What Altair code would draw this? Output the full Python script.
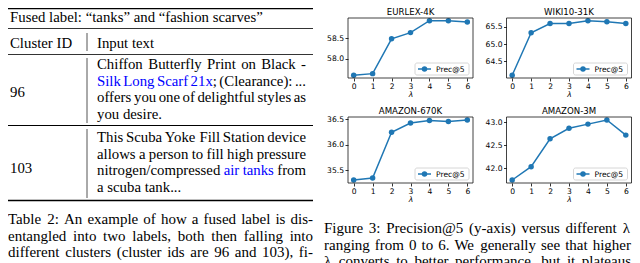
import altair as alt
import pandas as pd

# ---------------- data ----------------
LAMBDA = [0, 1, 2, 3, 4, 5, 6]
X_TICKS = [0, 1, 2, 3, 4, 5, 6]
PANEL_TITLES = ["EURLEX-4K", "WIKI10-31K", "AMAZON-670K", "AMAZON-3M"]
EURLEX_4K = [57.60, 57.64, 58.49, 58.64, 58.93, 58.93, 58.90]
WIKI10_31K = [64.09, 65.33, 65.60, 65.60, 65.68, 65.65, 65.60]
AMAZON_670K = [35.31, 35.35, 36.25, 36.43, 36.48, 36.46, 36.49]
AMAZON_3M = [41.74, 42.03, 42.64, 42.87, 42.96, 43.05, 42.72]
Y_TICKS_EURLEX = [58.0, 58.5]
Y_TICKS_WIKI = [64.5, 65.0, 65.5]
Y_TICKS_670K = [35.5, 36.0, 36.5]
Y_TICKS_3M = [42.0, 42.5, 43.0]
SERIES_NAME = "Prec@5"
X_TITLE = "λ"

TABLE_HEADER = "Fused label: “tanks” and “fashion scarves”"
COL_HEADERS = ["Cluster ID", "Input text"]
CLUSTER_IDS = ["96", "103"]
ROW_96 = [
    [("Chiffon Butterfly Print on Black -", "k")],
    [("Silk Long Scarf 21x", "b"), ("; (Clearance): ...", "k")],
    [("offers you one of delightful styles as", "k")],
    [("you desire.", "k")],
]
ROW_103 = [
    [("This Scuba Yoke Fill Station device", "k")],
    [("allows a person to fill high pressure", "k")],
    [("nitrogen/compressed ", "k"), ("air tanks", "b"), (" from", "k")],
    [("a scuba tank...", "k")],
]
TABLE_CAPTION = [
    "Table 2: An example of how a fused label is dis-",
    "entangled into two labels, both then falling into",
    "different clusters (cluster ids are 96 and 103), fi-",
]
FIGURE_CAPTION = [
    "Figure 3: Precision@5 (y-axis) versus different λ",
    "ranging from 0 to 6. We generally see that higher",
    "λ converts to better performance, but it plateaus",
]

# ---------------- style / layout (page pixels) ----------------
BLUE = "#1f77b4"
SERIF = "Liberation Serif"
SANS = "DejaVu Sans"
COLORS = {"k": "#000000", "b": "#0000ff"}
M = 8                      # page margin -> view origin
VIEW_W, VIEW_H = 624, 255

# frames of the four panels: (x0, x1, y0 top, y1 bottom)
FRAMES = [(348, 473, 18, 78), (506.5, 631.5, 18, 78),
          (348, 473, 117, 183), (506.5, 631.5, 117, 183)]

TABLE_FS = 14.8
CAP_FS = 15.0
TICK_FS = 7.6
TITLE_FS = 8.6

TIMES = {" ": 250, "!": 333, "(": 333, ")": 333, ",": 250, "-": 333, ".": 250,
         "/": 278, ":": 278, ";": 278, "@": 921, "“": 444, "”": 444, "λ": 549}
for d in "0123456789":
    TIMES[d] = 500
for c, w in zip("ABCDEFGHIJKLMNOPQRSTUVWXYZ",
                [722, 667, 667, 722, 611, 556, 722, 722, 333, 389, 722, 611, 889,
                 722, 722, 556, 722, 667, 556, 611, 722, 722, 944, 722, 722, 611]):
    TIMES[c] = w
for c, w in zip("abcdefghijklmnopqrstuvwxyz",
                [444, 500, 444, 500, 444, 333, 500, 500, 278, 278, 500, 278, 778,
                 500, 500, 500, 500, 333, 389, 278, 500, 500, 722, 500, 500, 444]):
    TIMES[c] = w


def tw(s, size):
    return sum(TIMES.get(c, 500) for c in s) * size / 1000.0


def layout_line(segments, x0, y, size, target=None):
    chars = [(ch, col) for text, col in segments for ch in text]
    words, cur = [], []
    for ch, col in chars:
        if ch == " ":
            if cur:
                words.append(cur)
                cur = []
        else:
            cur.append((ch, col))
    if cur:
        words.append(cur)
    wruns = []
    for w in words:
        runs = []
        for ch, col in w:
            if runs and runs[-1][1] == col:
                runs[-1][0] += ch
            else:
                runs.append([ch, col])
        wruns.append(runs)
    widths = [sum(tw(r[0], size) for r in wr) for wr in wruns]
    gap = tw(" ", size)
    if target is not None and len(words) > 1:
        gap = (target - sum(widths)) / (len(words) - 1)
    rows, x = [], x0
    for wr, wd in zip(wruns, widths):
        xx = x
        for text, col in wr:
            rows.append(dict(text=text, x=xx - M, y=y - M, color=COLORS[col], size=size))
            xx += tw(text, size)
        x += wd + gap
    return rows


# ---------------- table + captions (text layout) ----------------
text_rows = []
text_rows += layout_line([(TABLE_HEADER, "k")], 10, 22, TABLE_FS)
text_rows += layout_line([(COL_HEADERS[0], "k")], 10, 47.5, TABLE_FS)
text_rows += layout_line([(COL_HEADERS[1], "k")], 97, 47.5, TABLE_FS)
LS = 16.5
for i, segs in enumerate(ROW_96):
    tgt = 209 if i < len(ROW_96) - 1 else None
    text_rows += layout_line(segs, 97, 69.25 + i * LS, TABLE_FS, tgt)
text_rows += layout_line([(CLUSTER_IDS[0], "k")], 10, 97, TABLE_FS)
for i, segs in enumerate(ROW_103):
    tgt = 209 if i < len(ROW_103) - 1 else None
    text_rows += layout_line(segs, 97, 142.25 + i * LS, TABLE_FS, tgt)
text_rows += layout_line([(CLUSTER_IDS[1], "k")], 10, 173, TABLE_FS)
for i, line in enumerate(TABLE_CAPTION):
    text_rows += layout_line([(line, "k")], 8, 224 + i * 16.5, CAP_FS, 305)
for i, line in enumerate(FIGURE_CAPTION):
    text_rows += layout_line([(line, "k")], 324, 233 + i * 16.5, CAP_FS, 307)
tdf = pd.DataFrame(text_rows)

rules = [
    (8, 313, 8.7, 8.7, 1.3, "#000000"),
    (8, 313, 28.5, 28.5, 0.8, "#000000"),
    (8, 313, 54.5, 54.5, 0.8, "#000000"),
    (8, 313, 125.5, 125.5, 1.0, "#000000"),
    (8, 313, 200.5, 200.5, 1.3, "#000000"),
    (87, 87, 33, 51, 1.0, "#555555"),
    (87, 87, 58, 123, 1.0, "#555555"),
    (87, 87, 129, 198, 1.0, "#555555"),
]
rdf = pd.DataFrame(rules, columns=["x", "x2", "y", "y2", "w", "color"])
rdf[["x", "x2", "y", "y2"]] = rdf[["x", "x2", "y", "y2"]] - M

table_rules = alt.Chart(rdf).mark_rule().encode(
    x=alt.X("x:Q", scale=None, axis=None), x2="x2:Q",
    y=alt.Y("y:Q", scale=None, axis=None), y2="y2:Q",
    strokeWidth=alt.StrokeWidth("w:Q", scale=None),
    color=alt.Color("color:N", scale=None),
)
table_text = alt.Chart(tdf).mark_text(align="left", baseline="alphabetic", font=SERIF).encode(
    x=alt.X("x:Q", scale=None, axis=None),
    y=alt.Y("y:Q", scale=None, axis=None),
    text="text:N",
    color=alt.Color("color:N", scale=None),
    size=alt.Size("size:Q", scale=None),
)


# ---------------- panels ----------------
def panel(name, values, ticks, frame):
    fx0, fx1, fy0, fy1 = frame
    vx0, vx1, vy0, vy1 = fx0 - M, fx1 - M, fy0 - M, fy1 - M
    lo, hi = min(values), max(values)
    pad = 0.05 * (hi - lo)
    xdom = [LAMBDA[0] - 0.3, LAMBDA[-1] + 0.3]
    ydom = [lo - pad, hi + pad]
    df = pd.DataFrame({"lam": LAMBDA, "prec": values})
    xs = alt.Scale(domain=xdom, range=[vx0, vx1], nice=False, zero=False)
    ys = alt.Scale(domain=ydom, range=[vy1, vy0], nice=False, zero=False)
    xaxis = alt.Axis(values=X_TICKS, format="d", title=X_TITLE, orient="bottom",
                     offset=vy1 - VIEW_H, labelFlush=False, labelOverlap=False, grid=False)
    yaxis = alt.Axis(values=ticks, format=".1f", title=None, orient="left",
                     offset=-vx0, labelFlush=False, labelOverlap=False, grid=False)
    x = alt.X("lam:Q", scale=xs, axis=xaxis)
    y = alt.Y("prec:Q", scale=ys, axis=yaxis)
    base = alt.Chart(df)
    line = base.mark_line(color=BLUE, strokeWidth=1.5).encode(x=x, y=y)
    pts = base.mark_circle(color=BLUE, size=30, opacity=1).encode(x=x, y=y)

    # axes frame (drawn through the panel's scales at the domain limits)
    fdf = pd.DataFrame({"lam": [xdom[0]], "lam2": [xdom[1]],
                        "prec": [ydom[0]], "prec2": [ydom[1]]})
    box_frame = alt.Chart(fdf).mark_rect(
        filled=False, fill=None, stroke="#111111", strokeWidth=0.8).encode(
        x=x, x2="lam2:Q", y=y, y2="prec2:Q")

    lb = alt.Chart(pd.DataFrame({"label": [SERIES_NAME]}))
    bx0, bx1 = vx1 - 58, vx1 - 4
    by0, by1 = vy1 - 15, vy1 - 3
    ly = (by0 + by1) / 2
    box = lb.mark_rect(fill="white", fillOpacity=0.8, stroke="#cccccc", strokeWidth=0.8,
                       cornerRadius=2).encode(
        x=alt.value(bx0), x2=alt.value(bx1), y=alt.value(by0), y2=alt.value(by1))
    sample = lb.mark_rule(color=BLUE, strokeWidth=1.5).encode(
        x=alt.value(bx0 + 3), x2=alt.value(bx0 + 16), y=alt.value(ly))
    dot = lb.mark_circle(color=BLUE, size=30, opacity=1).encode(
        x=alt.value(bx0 + 9.5), y=alt.value(ly))
    ltxt = lb.mark_text(align="left", baseline="middle", font=SANS, fontSize=TICK_FS,
                        color="black").encode(
        x=alt.value(bx0 + 21), y=alt.value(ly + 0.5), text="label:N")
    ttl = alt.Chart(pd.DataFrame({"t": [name]})).mark_text(
        font=SANS, fontSize=TITLE_FS, align="center", baseline="alphabetic",
        color="black").encode(
        x=alt.value((vx0 + vx1) / 2), y=alt.value(vy0 - 3.3), text="t:N")
    return alt.layer(line, pts, box_frame, box, sample, dot, ltxt, ttl)


p1 = panel(PANEL_TITLES[0], EURLEX_4K, Y_TICKS_EURLEX, FRAMES[0])
p2 = panel(PANEL_TITLES[1], WIKI10_31K, Y_TICKS_WIKI, FRAMES[1])
p3 = panel(PANEL_TITLES[2], AMAZON_670K, Y_TICKS_670K, FRAMES[2])
p4 = panel(PANEL_TITLES[3], AMAZON_3M, Y_TICKS_3M, FRAMES[3])

chart = alt.layer(p1, p2, p3, p4, table_rules, table_text).resolve_scale(
    x="independent", y="independent"
).resolve_axis(
    x="independent", y="independent"
).properties(
    width=VIEW_W, height=VIEW_H, padding=0, background="white",
    autosize=alt.AutoSizeParams(type="none"),
).configure_view(
    stroke=None
).configure_axis(
    domain=False, ticks=True, tickSize=3, tickWidth=0.8, tickColor="#000000",
    labelFont=SANS, labelFontSize=TICK_FS, labelColor="#000000", labelPadding=1.5,
    titleFont=SANS, titleFontSize=TICK_FS, titleFontWeight="normal", titleFontStyle="italic",
    titleColor="#000000", titlePadding=0.5, grid=False
)

chart.save("out.html", embed_options={"renderer": "svg", "actions": False})
